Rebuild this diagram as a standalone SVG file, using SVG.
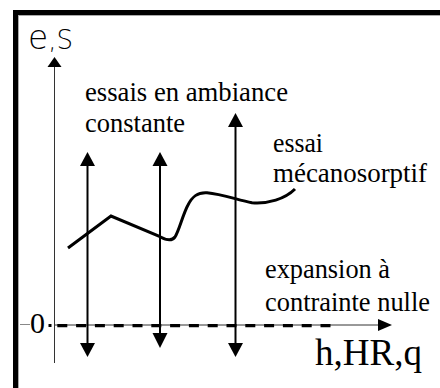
<svg xmlns="http://www.w3.org/2000/svg" width="440" height="388" viewBox="0 0 440 388">
<defs>
<style>
.axis{stroke:#333;stroke-width:1;fill:none}
.arr{stroke:#000;stroke-width:2;fill:none}
.head{fill:#000;stroke:none}
</style>
</defs>
<rect width="440" height="388" fill="#fff"/>
<g id="frame">
<rect x="13" y="10" width="427" height="5" fill="#000"/>
<rect x="13" y="10" width="5" height="378" fill="#000"/>
<line x1="18" y1="15.5" x2="440" y2="15.5" stroke="#aaa" stroke-width="1"/>
<line x1="18.5" y1="15" x2="18.5" y2="388" stroke="#aaa" stroke-width="1"/>
</g>
<g id="axes">
<line class="axis" x1="54.5" y1="363" x2="54.5" y2="66"/>
<polygon class="head" points="54.5,57 47.5,67 61.5,67"/>
<line class="axis" x1="54.5" y1="325" x2="380" y2="325"/>
<polygon class="head" points="392,325 378,319 378,331"/>
<line x1="20" y1="324.5" x2="30" y2="324.5" stroke="#888" stroke-width="1"/>
<rect x="48.5" y="324" width="3" height="3" fill="#000"/>
</g>
<g id="connectors">
<line class="arr" x1="87.5" y1="164" x2="87.5" y2="344"/>
<polygon class="head" points="87.5,152 80,166 95,166"/>
<polygon class="head" points="87.5,357 80,343 95,343"/>
<line class="arr" x1="160" y1="164" x2="160" y2="335"/>
<polygon class="head" points="160,152 152.5,166 167.5,166"/>
<polygon class="head" points="160,348 152.5,333 167.5,333"/>
<line class="arr" x1="235.5" y1="125" x2="235.5" y2="344"/>
<polygon class="head" points="235.5,113 228,127 243,127"/>
<polygon class="head" points="235.5,357 228,343 243,343"/>
</g>
<g id="zero-line">
<line x1="57.3" y1="325.7" x2="331" y2="325.7" stroke="#000" stroke-width="3.3" stroke-dasharray="10 8.8"/>
</g>
<g id="curve">
<path d="M68 248 L111 216 L160 236.7 C166 240 172 241 175 237 C179 231 183 214 188 205 C192 197 197 192 207 192.7 C222 194 238 200 252 202.7 C268 204 285 199 295 189" fill="none" stroke="#000" stroke-width="3" stroke-linejoin="miter"/>
</g>
<g id="label-es">
<text x="28" y="49" font-family="'DejaVu Sans', sans-serif" font-weight="200" font-size="27" textLength="45" lengthAdjust="spacingAndGlyphs"><tspan font-size="34">e</tspan>,S</text>
</g>
<g id="labels" fill="#000" font-family="'Liberation Serif', 'Times New Roman', serif" font-size="28">
<text x="85" y="101" textLength="203" lengthAdjust="spacingAndGlyphs">essais en ambiance</text>
<text x="85" y="132" textLength="100" lengthAdjust="spacingAndGlyphs">constante</text>
<text x="273" y="152" textLength="50" lengthAdjust="spacingAndGlyphs">essai</text>
<text x="273" y="182" textLength="154" lengthAdjust="spacingAndGlyphs">mécanosorptif</text>
<text x="265" y="278" textLength="125" lengthAdjust="spacingAndGlyphs">expansion à</text>
<text x="265" y="311" textLength="165" lengthAdjust="spacingAndGlyphs">contrainte nulle</text>
<text x="315" y="365" font-size="37" textLength="107" lengthAdjust="spacingAndGlyphs">h,HR,q</text>
<text x="30" y="333" font-size="30">0</text>
</g>
</svg>
